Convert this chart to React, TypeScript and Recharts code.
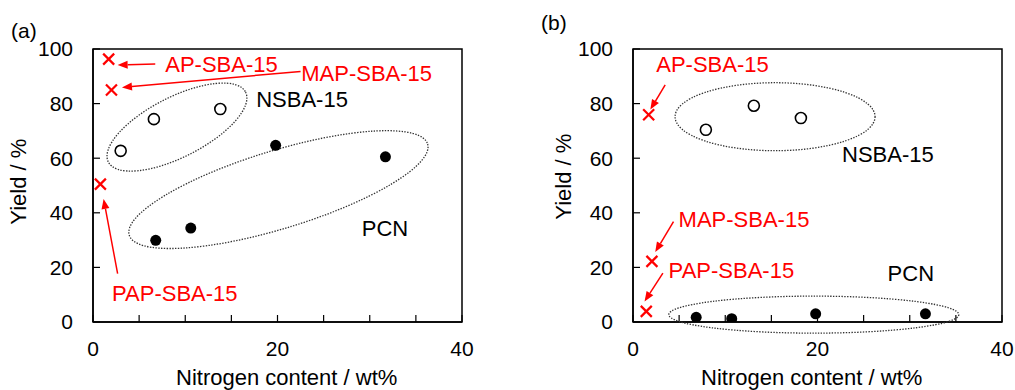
import React from 'react';
import { ScatterChart, Scatter, XAxis, YAxis, ReferenceArea, ReferenceDot, ReferenceLine } from 'recharts';

const FONT = 'Liberation Sans, Arial, sans-serif';

const xTicks = [0, 5, 10, 15, 20, 25, 30, 35, 40];
const yTicks = [0, 20, 40, 60, 80, 100];

// (a) values: nitrogen content (wt%) vs yield (%)
const aminoA = [{ n: 1.7, y: 96.3 }, { n: 2.0, y: 85.0 }, { n: 0.8, y: 50.5 }];
const nsbaA = [{ n: 3.0, y: 62.7 }, { n: 6.6, y: 74.3 }, { n: 13.8, y: 78.0 }];
const pcnA = [{ n: 6.8, y: 29.9 }, { n: 10.6, y: 34.4 }, { n: 19.8, y: 64.7 }, { n: 31.7, y: 60.5 }];

// (b)
const aminoB = [{ n: 1.7, y: 75.9 }, { n: 2.05, y: 22.2 }, { n: 1.44, y: 3.9 }];
const nsbaB = [{ n: 7.9, y: 70.4 }, { n: 13.1, y: 79.2 }, { n: 18.2, y: 74.7 }];
const pcnB = [{ n: 6.85, y: 1.7 }, { n: 10.7, y: 1.2 }, { n: 19.8, y: 3.0 }, { n: 31.7, y: 3.0 }];

const labelsA = [
  { text: 'AP-SBA-15', n: 7.83, y: 94.5, red: true },
  { text: 'MAP-SBA-15', n: 22.57, y: 91.1, red: true },
  { text: 'NSBA-15', n: 17.69, y: 81.4, red: false },
  { text: 'PCN', n: 29.14, y: 34.2, red: false },
  { text: 'PAP-SBA-15', n: 2.06, y: 10.6, red: true },
];
const labelsB = [
  { text: 'AP-SBA-15', n: 2.52, y: 94.4, red: true },
  { text: 'NSBA-15', n: 22.66, y: 61.3, red: false },
  { text: 'MAP-SBA-15', n: 4.94, y: 37.5, red: true },
  { text: 'PAP-SBA-15', n: 3.86, y: 18.8, red: true },
  { text: 'PCN', n: 27.6, y: 17.9, red: false },
];

const arrowsA = [
  { x1: 6.75, y1: 94.5, x2: 2.67, y2: 94.1 },
  { x1: 22.5, y1: 91.8, x2: 3.14, y2: 85.9 },
  { x1: 2.67, y1: 17.7, x2: 1.15, y2: 45.1 },
];
const arrowsB = [
  { x1: 3.49, y1: 86.9, x2: 1.88, y2: 77.8 },
  { x1: 4.39, y1: 36.8, x2: 2.41, y2: 25.6 },
  { x1: 3.24, y1: 17.9, x2: 1.25, y2: 7.5 },
];

// group outlines: centre in data units, radii in px, tilt in degrees
const groupsA = [
  { n: 9.1, y: 71.4, rx: 77, ry: 30, tilt: -27 },
  { n: 20.1, y: 48.5, rx: 156, ry: 39, tilt: -17 },
];
const groupsB = [
  { n: 15.4, y: 75.2, rx: 100, ry: 34, tilt: 0 },
  { n: 19.6, y: 2.7, rx: 145, ry: 18.5, tilt: 0 },
];

const Cross = (p: any) => {
  const { cx, cy } = p;
  const s = 5.5;
  return (
    <g stroke="#ff0000" strokeWidth={2.2}>
      <line x1={cx - s} y1={cy - s} x2={cx + s} y2={cy + s} />
      <line x1={cx - s} y1={cy + s} x2={cx + s} y2={cy - s} />
    </g>
  );
};
const OpenDot = (p: any) => <circle cx={p.cx} cy={p.cy} r={5.5} fill="#fff" stroke="#000" strokeWidth={1.6} />;
const FullDot = (p: any) => <circle cx={p.cx} cy={p.cy} r={5.5} fill="#000" />;

const Arrow = (p: any) => {
  const { x1, y1, x2, y2 } = p;
  const ang = Math.atan2(y2 - y1, x2 - x1);
  const len = 10;
  const w = 4;
  const bx = x2 - len * Math.cos(ang);
  const by = y2 - len * Math.sin(ang);
  const px = -Math.sin(ang) * w;
  const py = Math.cos(ang) * w;
  return (
    <g>
      <line x1={x1} y1={y1} x2={bx} y2={by} stroke="#ff0000" strokeWidth={1.5} />
      <polygon points={`${x2},${y2} ${bx + px},${by + py} ${bx - px},${by - py}`} fill="#ff0000" />
    </g>
  );
};

interface PanelProps {
  tag: string;
  left: number;
  width: number;
  marginLeft: number;
  marginRight: number;
  titleX: number;
  titleY: number;
  xTitleX: number;
  tagY: number;
  amino: { n: number; y: number }[];
  nsba: { n: number; y: number }[];
  pcn: { n: number; y: number }[];
  labels: { text: string; n: number; y: number; red: boolean }[];
  arrows: { x1: number; y1: number; x2: number; y2: number }[];
  groups: { n: number; y: number; rx: number; ry: number; tilt: number }[];
}

const Panel: React.FC<PanelProps> = (p) => (
  <div style={{ position: 'absolute', left: p.left, top: 0, width: p.width, height: 390 }}>
    <ScatterChart
      width={p.width}
      height={390}
      margin={{ top: 49, right: p.marginRight, bottom: 38, left: p.marginLeft }}
      style={{ fontFamily: FONT }}
    >
      <XAxis
        type="number"
        dataKey="n"
        domain={[0, 40]}
        ticks={xTicks}
        height={30}
        allowDataOverflow
        axisLine={{ stroke: '#000', strokeWidth: 1.5 }}
        tickLine={{ stroke: '#000', strokeWidth: 1.2 }}
        tickSize={-7}
        tickMargin={26}
        tick={{ fill: '#000', fontSize: 21, fontFamily: FONT }}
        tickFormatter={(v: number) => (v % 20 === 0 ? String(v) : '')}
        interval={0}
      />
      <YAxis
        type="number"
        dataKey="y"
        domain={[0, 100]}
        ticks={yTicks}
        width={60}
        allowDataOverflow
        axisLine={{ stroke: '#000', strokeWidth: 1.5 }}
        tickLine={{ stroke: '#000', strokeWidth: 1.2 }}
        tickSize={-7}
        tickMargin={27}
        tick={{ fill: '#000', fontSize: 21, fontFamily: FONT }}
        interval={0}
      />
      <ReferenceArea x1={0} x2={40} y1={0} y2={100} fill="none" stroke="#000" strokeWidth={1.5} />
      {p.groups.map((g, i) => (
        <ReferenceDot
          key={`g${i}`}
          x={g.n}
          y={g.y}
          shape={(s: any) => (
            <ellipse
              cx={s.cx}
              cy={s.cy}
              rx={g.rx}
              ry={g.ry}
              fill="none"
              stroke="#333"
              strokeWidth={1.3}
              strokeDasharray="1.4 1.4"
              transform={`rotate(${g.tilt} ${s.cx} ${s.cy})`}
            />
          )}
        />
      ))}
      {p.arrows.map((a, i) => (
        <ReferenceLine
          key={`a${i}`}
          segment={[{ x: a.x1, y: a.y1 }, { x: a.x2, y: a.y2 }]}
          shape={(s: any) => <Arrow {...s} />}
        />
      ))}
      {p.labels.map((l, i) => (
        <ReferenceDot
          key={`l${i}`}
          x={l.n}
          y={l.y}
          shape={(s: any) => (
            <text
              x={s.cx}
              y={s.cy}
              dominantBaseline="central"
              fontSize={22}
              fontFamily={FONT}
              fill={l.red ? '#ff0000' : '#000'}
            >
              {l.text}
            </text>
          )}
        />
      ))}
      <Scatter data={p.nsba} shape={OpenDot} isAnimationActive={false} />
      <Scatter data={p.pcn} shape={FullDot} isAnimationActive={false} />
      <Scatter data={p.amino} shape={Cross} isAnimationActive={false} />
      <text x={11} y={p.tagY} fontSize={21} fontFamily={FONT} fill="#000">{p.tag}</text>
      <text
        x={p.titleX}
        y={p.titleY}
        fontSize={22}
        fontFamily={FONT}
        fill="#000"
        textAnchor="middle"
        transform={`rotate(-90 ${p.titleX} ${p.titleY})`}
      >
        Yield / %
      </text>
      <text x={p.xTitleX} y={384.5} fontSize={22} fontFamily={FONT} fill="#000" textAnchor="middle">
        Nitrogen content / wt%
      </text>
    </ScatterChart>
  </div>
);

export default function App() {
  return (
    <div style={{ position: 'fixed', left: 0, top: 0, width: 1015, height: 390, background: '#fff' }}>
      <Panel
        tag="(a)"
        left={0}
        width={480}
        marginLeft={33}
        marginRight={18}
        titleX={26}
        titleY={181.7}
        xTitleX={286.7}
        tagY={38}
        amino={aminoA}
        nsba={nsbaA}
        pcn={pcnA}
        labels={labelsA}
        arrows={arrowsA}
        groups={groupsA}
      />
      <Panel
        tag="(b)"
        left={530}
        width={485}
        marginLeft={43}
        marginRight={13}
        titleX={41}
        titleY={176.7}
        xTitleX={281.7}
        tagY={30}
        amino={aminoB}
        nsba={nsbaB}
        pcn={pcnB}
        labels={labelsB}
        arrows={arrowsB}
        groups={groupsB}
      />
    </div>
  );
}
